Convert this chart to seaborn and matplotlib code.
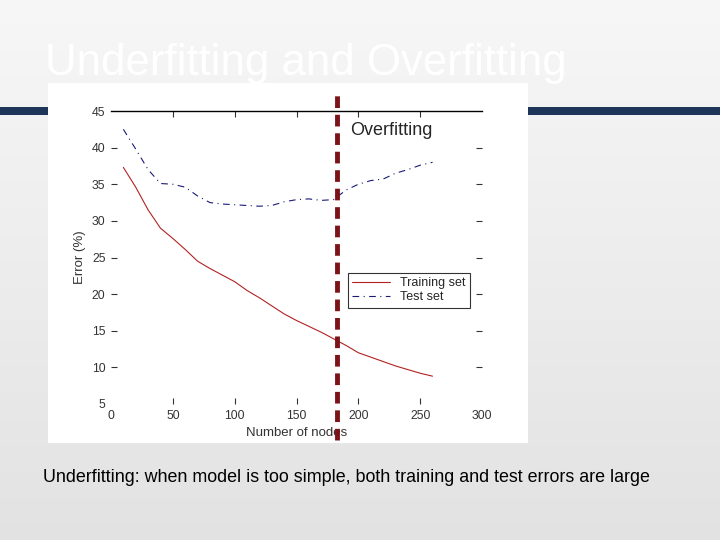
import numpy as np
import pandas as pd
import matplotlib
matplotlib.use("Agg")
import matplotlib.pyplot as plt
import seaborn as sns
from matplotlib.patches import Rectangle

sns.set_style("white")
plt.rcParams["font.family"] = ["Liberation Sans", "DejaVu Sans"]

# Data (error in % vs. number of tree nodes)
nodes = [10, 20, 30, 40, 50, 60, 70, 80, 90, 100, 110, 120, 130,
         140, 150, 160, 170, 180, 190, 200, 210, 220, 230, 240, 250, 260]
train_error = [37.3, 34.6, 31.5, 29.0, 27.6, 26.1, 24.5, 23.5, 22.6, 21.7, 20.5, 19.5, 18.4,
               17.3, 16.4, 15.6, 14.8, 13.9, 13.0, 12.0, 11.4, 10.8, 10.2, 9.7, 9.2, 8.8]
test_error = [42.5, 39.8, 37.0, 35.1, 35.0, 34.6, 33.4, 32.5, 32.3, 32.2, 32.1, 32.0, 32.1,
              32.6, 32.9, 33.0, 32.8, 32.9, 34.2, 35.0, 35.5, 35.7, 36.5, 37.0, 37.6, 38.0]
series_names = ["Training set", "Test set"]
overfit_start = 182.5

x_ticks = [0, 50, 100, 150, 200, 250, 300]
y_ticks = [5, 10, 15, 20, 25, 30, 35, 40, 45]

title = "Underfitting and Overfitting"
caption = "Underfitting: when model is too simple, both training and test errors are large"

W, H = 720, 540
fig = plt.figure(figsize=(W / 100, H / 100), dpi=100)

# slide background: soft vertical grey gradient
bg = fig.add_axes([0, 0, 1, 1], zorder=-3)
grad = np.linspace(0, 1, 256)[:, None]
shade = 0.968 - 0.08 * grad
bg.imshow(np.dstack([shade, shade, shade]), aspect="auto", extent=[0, 1, 0, 1])
bg.set_axis_off()

# navy bar across the slide, white image panel on top of it
fig.patches.append(Rectangle((0, 1 - 115 / H), 1, 8 / H, transform=fig.transFigure,
                             facecolor="#1d3557", edgecolor="none", zorder=-2))
fig.patches.append(Rectangle((48 / W, 1 - 443 / H), 480 / W, 360 / H, transform=fig.transFigure,
                             facecolor="white", edgecolor="none", zorder=-1))

fig.text(45 / W, 1 - 63 / H, title, fontsize=31.5, color="white", va="center", ha="left")
fig.text(43 / W, 1 - 478 / H, caption, fontsize=12.9, color="black", va="center", ha="left")

# the MATLAB-style plot
ax = fig.add_axes([111 / W, 1 - 404 / H, 371 / W, 293 / H])
ax.patch.set_alpha(0)

df = pd.DataFrame({"nodes": nodes * 2,
                   "error": train_error + test_error,
                   "set": [series_names[0]] * len(nodes) + [series_names[1]] * len(nodes)})
sns.lineplot(data=df[df["set"] == series_names[0]], x="nodes", y="error", ax=ax,
             color="#b22222", linewidth=0.8, label=series_names[0])
sns.lineplot(data=df[df["set"] == series_names[1]], x="nodes", y="error", ax=ax,
             color="#1a1a7a", linewidth=0.8, linestyle=(0, (6, 4, 1, 4)), label=series_names[1])

ax.axvline(overfit_start, ymin=-0.123, ymax=1.055, color="#7b1416", linewidth=3.5,
           linestyle=(0, (2.4, 1.4)), clip_on=False)
ax.text(overfit_start + 10.5, 42.4, "Overfitting", fontsize=13, va="center", ha="left")

ax.set_xlim(0, 300)
ax.set_ylim(5, 45)
ax.set_xticks(x_ticks)
ax.set_yticks(y_ticks)
ax.tick_params(direction="in", length=4, width=0.8, colors="#333333", labelsize=8.8,
               top=True, right=True, bottom=True, left=True, pad=4)
# MATLAB box corners: no tick marks at the axis limits
for axis in (ax.xaxis, ax.yaxis):
    ticks = axis.get_major_ticks()
    for t in (ticks[0], ticks[-1]):
        t.tick1line.set_visible(False)
        t.tick2line.set_visible(False)
for side in ["left", "right", "bottom"]:
    ax.spines[side].set_visible(False)
ax.spines["top"].set_color("black")
ax.spines["top"].set_linewidth(1)

ax.set_xlabel("Number of nodes", fontsize=9.5, color="#333333", labelpad=4)
ax.set_ylabel("Error (%)", fontsize=9.5, color="#333333", labelpad=4)

leg = ax.legend(loc="upper left", bbox_to_anchor=(0.639, 0.447), borderaxespad=0,
                fontsize=9, frameon=True, fancybox=False, handlelength=3.0,
                labelspacing=0.15, borderpad=0.35, handletextpad=0.8)
leg.get_frame().set_edgecolor("black")
leg.get_frame().set_linewidth(0.8)

fig.savefig("out.png", dpi=100)
